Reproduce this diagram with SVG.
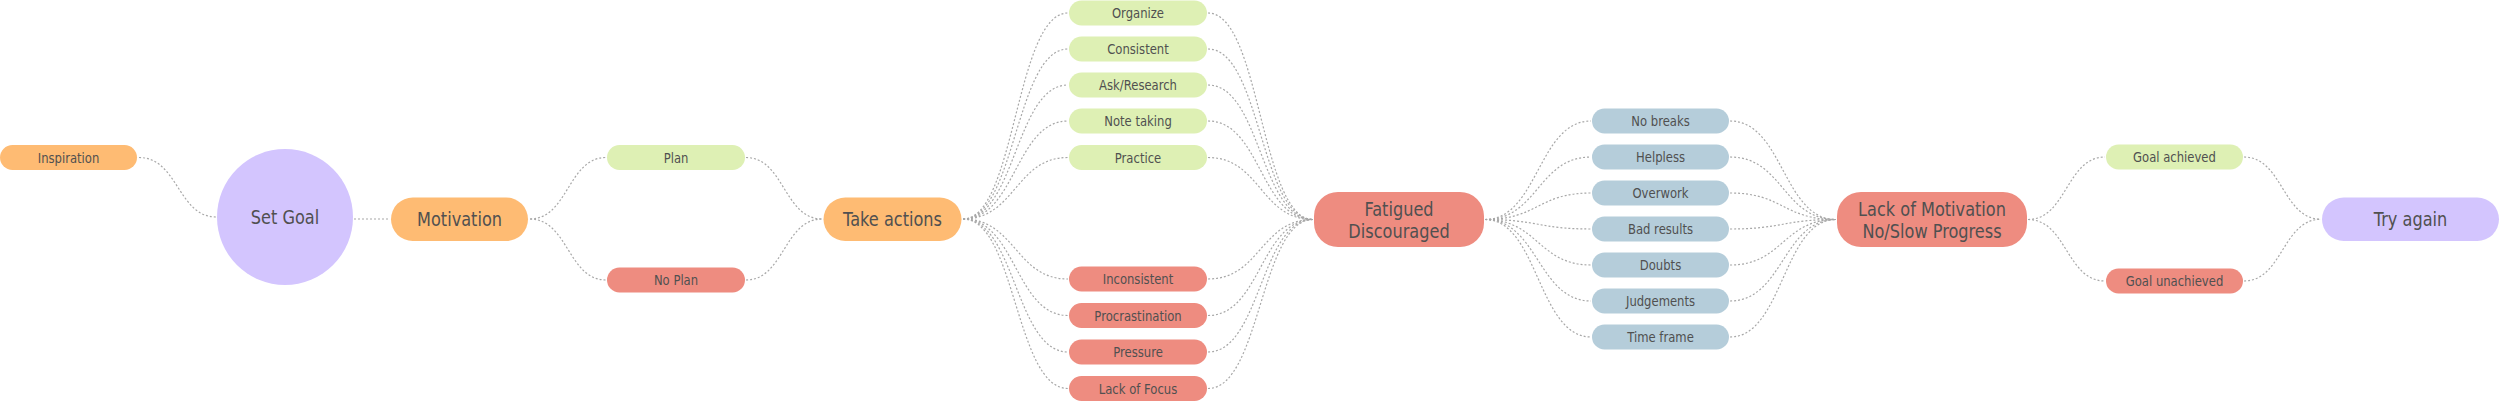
<svg xmlns="http://www.w3.org/2000/svg" width="2500" height="402" viewBox="0 0 2500 402">
<style>
.o{fill:#FEBB73}.p{fill:#D3C5FE}.g{fill:#DEF0B4}.r{fill:#EE8C80}.b{fill:#B5CDDA}
.t{font-family:"DejaVu Sans",Verdana,sans-serif;fill:#505050;text-anchor:middle}
.s{font-size:14px}.L{font-size:19px}
.c{fill:none;stroke:#a8a8a8;stroke-width:1.2;stroke-dasharray:2 2}
</style>
<rect width="2500" height="402" fill="#ffffff"/>
<g id="connectors">
<path class="c" d="M139,157.5 C178,157.5 178,217 216,217"/>
<path class="c" d="M354,219 H390"/>
<path class="c" d="M530,219 C568,219 568,157.5 606,157.5"/>
<path class="c" d="M530,219 C568,219 568,280 606,280"/>
<path class="c" d="M746,157.5 C784,157.5 784,219 822,219"/>
<path class="c" d="M746,280 C784,280 784,219 822,219"/>
<path class="c" d="M963,219 C1015.5,219 1015.5,13 1068,13"/>
<path class="c" d="M963,219 C1015.5,219 1015.5,49 1068,49"/>
<path class="c" d="M963,219 C1015.5,219 1015.5,85 1068,85"/>
<path class="c" d="M963,219 C1015.5,219 1015.5,121 1068,121"/>
<path class="c" d="M963,219 C1015.5,219 1015.5,157.5 1068,157.5"/>
<path class="c" d="M963,219 C1015.5,219 1015.5,279 1068,279"/>
<path class="c" d="M963,219 C1015.5,219 1015.5,315.5 1068,315.5"/>
<path class="c" d="M963,219 C1015.5,219 1015.5,352 1068,352"/>
<path class="c" d="M963,219 C1015.5,219 1015.5,388.5 1068,388.5"/>
<path class="c" d="M1208,13 C1260.5,13 1260.5,219.5 1313,219.5"/>
<path class="c" d="M1208,49 C1260.5,49 1260.5,219.5 1313,219.5"/>
<path class="c" d="M1208,85 C1260.5,85 1260.5,219.5 1313,219.5"/>
<path class="c" d="M1208,121 C1260.5,121 1260.5,219.5 1313,219.5"/>
<path class="c" d="M1208,157.5 C1260.5,157.5 1260.5,219.5 1313,219.5"/>
<path class="c" d="M1208,279 C1260.5,279 1260.5,219.5 1313,219.5"/>
<path class="c" d="M1208,315.5 C1260.5,315.5 1260.5,219.5 1313,219.5"/>
<path class="c" d="M1208,352 C1260.5,352 1260.5,219.5 1313,219.5"/>
<path class="c" d="M1208,388.5 C1260.5,388.5 1260.5,219.5 1313,219.5"/>
<path class="c" d="M1485,219.5 C1538,219.5 1538,121 1591,121"/>
<path class="c" d="M1485,219.5 C1538,219.5 1538,157 1591,157"/>
<path class="c" d="M1485,219.5 C1538,219.5 1538,193 1591,193"/>
<path class="c" d="M1485,219.5 C1538,219.5 1538,229 1591,229"/>
<path class="c" d="M1485,219.5 C1538,219.5 1538,265 1591,265"/>
<path class="c" d="M1485,219.5 C1538,219.5 1538,301 1591,301"/>
<path class="c" d="M1485,219.5 C1538,219.5 1538,337 1591,337"/>
<path class="c" d="M1730,121 C1783,121 1783,219.5 1836,219.5"/>
<path class="c" d="M1730,157 C1783,157 1783,219.5 1836,219.5"/>
<path class="c" d="M1730,193 C1783,193 1783,219.5 1836,219.5"/>
<path class="c" d="M1730,229 C1783,229 1783,219.5 1836,219.5"/>
<path class="c" d="M1730,265 C1783,265 1783,219.5 1836,219.5"/>
<path class="c" d="M1730,301 C1783,301 1783,219.5 1836,219.5"/>
<path class="c" d="M1730,337 C1783,337 1783,219.5 1836,219.5"/>
<path class="c" d="M2028,219.5 C2066.5,219.5 2066.5,157 2105,157"/>
<path class="c" d="M2028,219.5 C2066.5,219.5 2066.5,281 2105,281"/>
<path class="c" d="M2244,157 C2282.5,157 2282.5,219.25 2321,219.25"/>
<path class="c" d="M2244,281 C2282.5,281 2282.5,219.25 2321,219.25"/>
</g>
<g id="inspiration"><rect class="o" x="0" y="145" width="137" height="25" rx="12.5"/><text class="t s" transform="translate(68.5 162.5) scale(0.83 1)">Inspiration</text></g>
<g id="set-goal"><circle class="p" cx="285" cy="217" r="68"/><text class="t L" transform="translate(285 224) scale(0.85 1)">Set Goal</text></g>
<g id="motivation"><rect class="o" x="391" y="197.5" width="137" height="43.5" rx="21.75"/><text class="t L" transform="translate(459.5 226) scale(0.85 1)">Motivation</text></g>
<g id="plan"><rect class="g" x="607" y="145" width="138" height="25" rx="12.5"/><text class="t s" transform="translate(676 162.5) scale(0.83 1)">Plan</text></g>
<g id="no-plan"><rect class="r" x="607" y="267.5" width="138" height="25" rx="12.5"/><text class="t s" transform="translate(676 285) scale(0.83 1)">No Plan</text></g>
<g id="take-actions"><rect class="o" x="823.5" y="197.5" width="138" height="43.5" rx="21.75"/><text class="t L" transform="translate(892.5 226) scale(0.85 1)">Take actions</text></g>
<g id="organize"><rect class="g" x="1069" y="0.5" width="138" height="25" rx="12.5"/><text class="t s" transform="translate(1138 18) scale(0.83 1)">Organize</text></g>
<g id="consistent"><rect class="g" x="1069" y="36.5" width="138" height="25" rx="12.5"/><text class="t s" transform="translate(1138 54) scale(0.83 1)">Consistent</text></g>
<g id="ask-research"><rect class="g" x="1069" y="72.5" width="138" height="25" rx="12.5"/><text class="t s" transform="translate(1138 90) scale(0.83 1)">Ask/Research</text></g>
<g id="note-taking"><rect class="g" x="1069" y="108.5" width="138" height="25" rx="12.5"/><text class="t s" transform="translate(1138 126) scale(0.83 1)">Note taking</text></g>
<g id="practice"><rect class="g" x="1069" y="145" width="138" height="25" rx="12.5"/><text class="t s" transform="translate(1138 162.5) scale(0.83 1)">Practice</text></g>
<g id="inconsistent"><rect class="r" x="1069" y="266.5" width="138" height="25" rx="12.5"/><text class="t s" transform="translate(1138 284) scale(0.83 1)">Inconsistent</text></g>
<g id="procrastination"><rect class="r" x="1069" y="303" width="138" height="25" rx="12.5"/><text class="t s" transform="translate(1138 320.5) scale(0.83 1)">Procrastination</text></g>
<g id="pressure"><rect class="r" x="1069" y="339.5" width="138" height="25" rx="12.5"/><text class="t s" transform="translate(1138 357) scale(0.83 1)">Pressure</text></g>
<g id="lack-of-focus"><rect class="r" x="1069" y="376" width="138" height="25" rx="12.5"/><text class="t s" transform="translate(1138 393.5) scale(0.83 1)">Lack of Focus</text></g>
<g id="fatigued"><rect class="r" x="1314" y="192" width="170" height="55" rx="24"/><text class="t L" transform="translate(1399 215.5) scale(0.85 1)">Fatigued</text><text class="t L" transform="translate(1399 238.3) scale(0.85 1)">Discouraged</text></g>
<g id="no-breaks"><rect class="b" x="1592" y="108.5" width="137" height="25" rx="12.5"/><text class="t s" transform="translate(1660.5 126) scale(0.83 1)">No breaks</text></g>
<g id="helpless"><rect class="b" x="1592" y="144.5" width="137" height="25" rx="12.5"/><text class="t s" transform="translate(1660.5 162) scale(0.83 1)">Helpless</text></g>
<g id="overwork"><rect class="b" x="1592" y="180.5" width="137" height="25" rx="12.5"/><text class="t s" transform="translate(1660.5 198) scale(0.83 1)">Overwork</text></g>
<g id="bad-results"><rect class="b" x="1592" y="216.5" width="137" height="25" rx="12.5"/><text class="t s" transform="translate(1660.5 234) scale(0.83 1)">Bad results</text></g>
<g id="doubts"><rect class="b" x="1592" y="252.5" width="137" height="25" rx="12.5"/><text class="t s" transform="translate(1660.5 270) scale(0.83 1)">Doubts</text></g>
<g id="judgements"><rect class="b" x="1592" y="288.5" width="137" height="25" rx="12.5"/><text class="t s" transform="translate(1660.5 306) scale(0.83 1)">Judgements</text></g>
<g id="time-frame"><rect class="b" x="1592" y="324.5" width="137" height="25" rx="12.5"/><text class="t s" transform="translate(1660.5 342) scale(0.83 1)">Time frame</text></g>
<g id="lack-of-motivation"><rect class="r" x="1837" y="192" width="190" height="55" rx="24"/><text class="t L" transform="translate(1932 215.5) scale(0.85 1)">Lack of Motivation</text><text class="t L" transform="translate(1932 238.3) scale(0.85 1)">No/Slow Progress</text></g>
<g id="goal-achieved"><rect class="g" x="2106" y="144.5" width="137" height="25" rx="12.5"/><text class="t s" transform="translate(2174.5 162) scale(0.83 1)">Goal achieved</text></g>
<g id="goal-unachieved"><rect class="r" x="2106" y="268.5" width="137" height="25" rx="12.5"/><text class="t s" transform="translate(2174.5 286) scale(0.83 1)">Goal unachieved</text></g>
<g id="try-again"><rect class="p" x="2322" y="197.5" width="177" height="43.5" rx="21.75"/><text class="t L" transform="translate(2410.5 226) scale(0.85 1)">Try again</text></g>
</svg>
